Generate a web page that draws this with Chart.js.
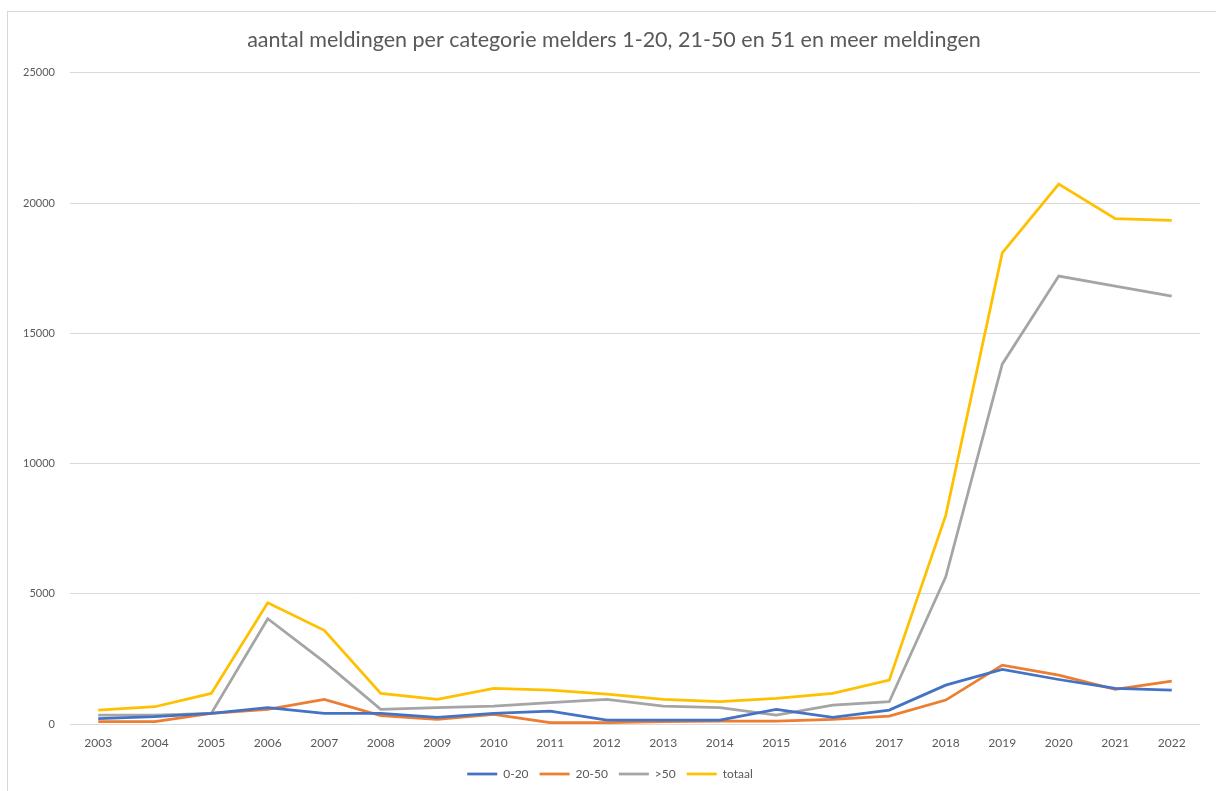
<!DOCTYPE html>
<html>
<head>
<meta charset="utf-8">
<script src="https://cdn.jsdelivr.net/npm/chart.js@4.4.1/dist/chart.umd.min.js"></script>
<style>
  html, body { margin: 0; padding: 0; background: #ffffff; }
  #wrap { position: relative; width: 1216px; height: 791px; }
</style>
</head>
<body>
<div id="wrap"><canvas id="c" width="1216" height="791"></canvas></div>
<script>
const years = ["2003","2004","2005","2006","2007","2008","2009","2010","2011","2012","2013","2014","2015","2016","2017","2018","2019","2020","2021","2022"];
const s0to20 = [204,280,408,625,408,408,255,408,497,153,153,153,561,255,536,1492,2092,1709,1365,1301];
const s20to50 = [89,89,408,561,944,319,178,370,51,51,89,115,115,178,306,918,2258,1875,1327,1645];
const sOver50 = [344,344,408,4043,2385,561,625,689,816,944,689,625,344,727,855,5651,13814,17194,16811,16429];
const sTotaal = [536,663,1173,4656,3597,1173,944,1365,1301,1148,944,855,982,1173,1684,8010,18087,20727,19400,19337];
const yTicks = [0,5000,10000,15000,20000,25000];
const titleText = "aantal meldingen per categorie melders 1-20, 21-50 en 51 en meer meldingen";

const FONT = "Lato, 'Open Sans', 'Liberation Sans', sans-serif";
const TXT = "#595959";

const framePlugin = {
  id: 'frame',
  afterLayout(chart) {
    // center the title and legend a little right of the canvas middle, as in the reference
    if (chart.titleBlock) { chart.titleBlock.left += 14; chart.titleBlock.right += 14; }
    if (chart.legend) { chart.legend.left += 10; chart.legend.right += 10; }
  },
  beforeDraw(chart) {
    const ctx = chart.ctx;
    ctx.save();
    ctx.fillStyle = '#ffffff';
    ctx.fillRect(0, 0, chart.width, chart.height);
    ctx.strokeStyle = '#d9d9d9';
    ctx.lineWidth = 1;
    ctx.strokeRect(7.5, 11.5, chart.width + 10, chart.height + 10);
    ctx.restore();
  }
};

function ds(label, data, color) {
  return {
    label: label, data: data, borderColor: color, backgroundColor: color,
    borderWidth: 2.75, pointRadius: 0, pointHoverRadius: 0, pointStyle: 'line',
    tension: 0, fill: false
  };
}

new Chart(document.getElementById('c'), {
  type: 'line',
  data: {
    labels: years,
    datasets: [
      ds('0-20', s0to20, '#4472C4'),
      ds('20-50', s20to50, '#ED7D31'),
      ds('>50', sOver50, '#A5A5A5'),
      ds('totaal', sTotaal, '#FFC000')
    ]
  },
  plugins: [framePlugin],
  options: {
    responsive: false,
    animation: false,
    layout: { padding: { left: 0, right: 16, top: 0, bottom: 1 } },
    plugins: {
      title: {
        display: true, text: titleText, color: TXT,
        font: { family: FONT, size: 21.5, weight: 'normal' },
        padding: { top: 27, bottom: 20 }
      },
      legend: {
        display: true, position: 'bottom',
        labels: {
          color: TXT, font: { family: FONT, size: 12 },
          usePointStyle: true, pointStyle: 'line', pointStyleWidth: 30,
          padding: 11, boxHeight: 12
        }
      },
      tooltip: { enabled: false }
    },
    scales: {
      x: {
        offset: true,
        grid: { display: false, drawTicks: false },
        border: { display: false },
        ticks: { color: TXT, font: { family: FONT, size: 12 }, padding: 12, maxRotation: 0, autoSkip: false },
        afterFit(scale) { scale.height = 33; }
      },
      y: {
        min: 0, max: 25000,
        afterBuildTicks(scale) { scale.ticks = yTicks.map(v => ({ value: v })); },
        grid: { color: '#d9d9d9', lineWidth: 1, drawTicks: false },
        border: { display: false },
        ticks: { color: TXT, font: { family: FONT, size: 11 }, padding: 15, callback: (v) => String(v) },
        afterFit(scale) { scale.width = 70; }
      }
    }
  }
});
</script>
</body>
</html>
